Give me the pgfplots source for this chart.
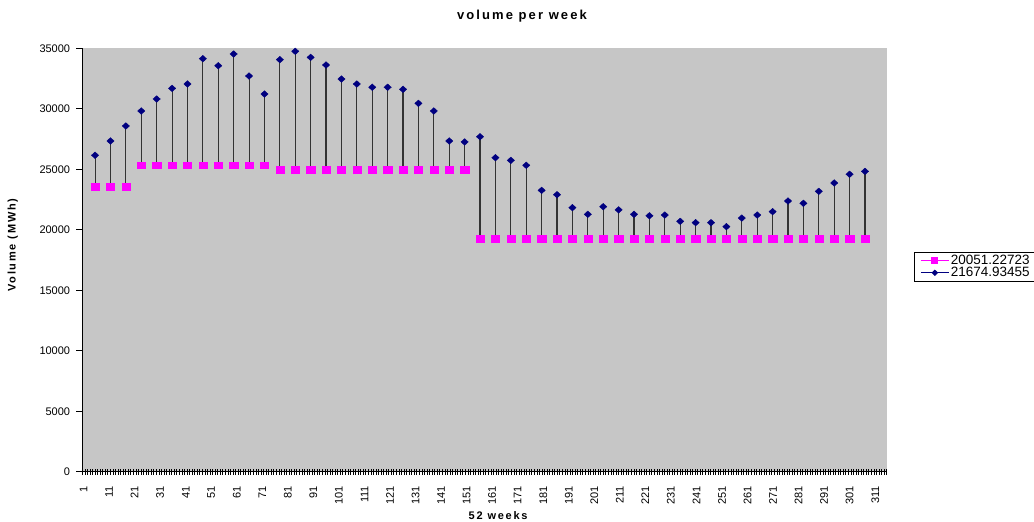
\documentclass[border=0pt]{standalone}
\usepackage{pgfplots}
\pgfplotsset{compat=1.18}
\usepackage{pgfplotstable}
\usepackage{fontspec}
\setmainfont{Liberation Sans}
\newfontfamily\lswide[LetterSpace=16]{Liberation Sans}
\newfontfamily\lstitle[LetterSpace=16]{Liberation Sans}
\definecolor{mag}{HTML}{FF00FF}
\definecolor{navyc}{HTML}{000080}
\definecolor{plotbg}{HTML}{C6C6C6}

\pgfplotstableread{
x mag navy
5.5 23550 26160
11.53 23550 27340
17.56 23550 28580
23.59 25350 29820
29.62 25350 30810
35.65 25350 31690
41.68 25350 32050
47.71 25350 34140
53.74 25350 33560
59.77 25350 34530
65.8 25350 32710
71.83 25350 31220
77.86 24950 34060
83.89 24950 34750
89.92 24950 34250
95.95 24950 33620
101.98 24950 32460
108.01 24950 32050
114.04 24950 31780
120.07 24950 31780
126.1 24950 31610
132.13 24950 30450
138.16 24950 29820
144.19 24950 27340
150.22 24950 27260
156.25 19240 27690
162.28 19240 25960
168.31 19240 25740
174.34 19240 25330
180.37 19240 23260
186.4 19240 22900
192.43 19240 21830
198.46 19240 21280
204.49 19240 21910
210.52 19240 21650
216.55 19240 21280
222.58 19240 21160
228.61 19240 21220
234.64 19240 20700
240.67 19240 20590
246.7 19240 20590
252.73 19240 20260
258.76 19240 20970
264.79 19240 21220
270.82 19240 21500
276.85 19240 22380
282.88 19240 22190
288.91 19240 23180
294.94 19240 23870
300.97 19240 24590
307.0 19240 24830
}\data

\begin{document}
\begin{tikzpicture}
\path[use as bounding box] (-82.3pt,-50.2pt) rectangle (951.7pt,471.8pt);
\begin{axis}[
  at={(0pt,0pt)}, anchor=south west,
  scale only axis, width=804.4pt, height=423.5pt,
  xmin=0.5, xmax=315.5, ymin=0, ymax=35000,
  axis x line*=bottom, axis y line*=left,
  axis line style={black, line width=0.9pt, -},
  axis background/.style={fill=plotbg},
  xtick={1,11,...,311},
  minor xtick={0.5,1.5,...,315.5},
  major x tick style={draw=none},
  minor x tick style={black, line width=0.7pt},
  minor tick length=6pt,
  xtick align=center,
  ytick={0,5000,...,35000},
  ytick align=outside,
  major tick length=6pt,
  y tick style={black, line width=0.9pt},
  xticklabel style={rotate=90, anchor=east, inner sep=0pt, font=\fontsize{11}{11}\selectfont},
  xticklabel shift=11pt,
  yticklabel style={anchor=east, inner sep=0pt, font=\fontsize{11}{11}\selectfont},
  yticklabel shift=6pt,
  /pgf/number format/set thousands separator={},
  /pgf/number format/assume math mode=true,
  scaled y ticks=false,
  title={volume per week},
  title style={at={(axis description cs:0.5466,1.0543)}, anchor=base, inner sep=0pt, font=\lstitle\bfseries\fontsize{13}{15}\selectfont},
  xlabel={52 weeks},
  xlabel style={at={(axis description cs:0.517,-0.1115)}, anchor=base, inner sep=0pt, font=\lswide\bfseries\fontsize{11}{13}\selectfont},
  ylabel={Volume (MWh)},
  ylabel style={at={(axis description cs:-0.083,0.5355)}, anchor=base, rotate=0, inner sep=0pt, font=\lswide\bfseries\fontsize{11}{13}\selectfont},
  legend style={at={(1.034,0.519)}, anchor=north west, draw=black, line width=0.8pt,
    inner xsep=6pt, inner ysep=2.5pt, row sep=0pt, column sep=1pt,
    font=\fontsize{13.5}{13.5}\selectfont,
    nodes={inner sep=0.5pt}, cells={anchor=west}},
  legend image code/.code={\draw[mark repeat=2,mark phase=2,#1] plot coordinates {(0pt,0pt) (14pt,0pt) (28pt,0pt)};},
]
\addplot[forget plot, only marks, mark=none,
  error bars/.cd, y dir=minus, y explicit, error mark=none,
  error bar style={black!80, line width=1.1pt}]
  table[x=x, y=navy, y error expr=\thisrow{navy}-\thisrow{mag}] {\data};
\addplot[forget plot, only marks, mark=square*, mark size=4.1pt, mag,
  mark options={yscale=0.82, draw=mag, fill=mag}]
  table[x=x, y=mag] {\data};
\addplot[forget plot, only marks, mark=diamond*, mark size=3.3pt, navyc,
  mark options={xscale=1.47, draw=navyc, fill=navyc}]
  table[x=x, y=navy] {\data};
\addlegendimage{mag, line width=0.8pt, mark=square*, mark size=3pt, mark options={fill=mag, draw=mag}}
\addlegendentry{20051.22723}
\addlegendimage{navyc, line width=0.8pt, mark=diamond*, mark size=2.6pt, mark options={xscale=1.4, fill=navyc, draw=navyc}}
\addlegendentry{21674.93455}
\end{axis}
\end{tikzpicture}
\end{document}
